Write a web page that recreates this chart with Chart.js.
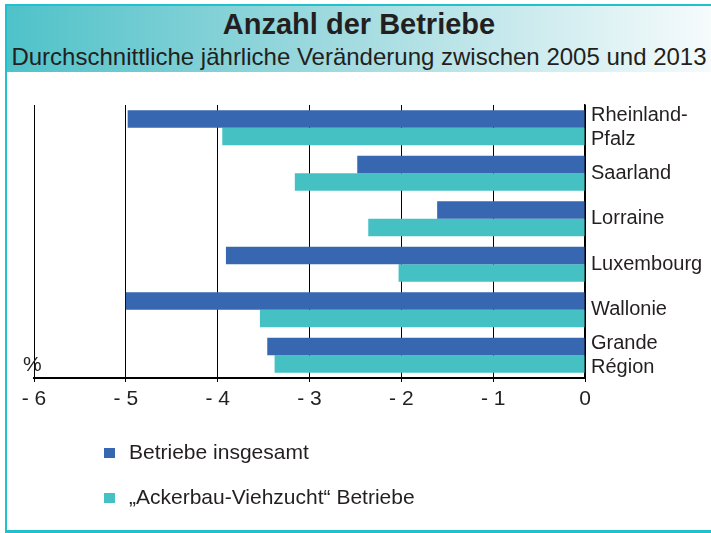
<!DOCTYPE html>
<html>
<head>
<meta charset="utf-8">
<script src="https://cdn.jsdelivr.net/npm/chart.js@4"></script>
<style>
  body { margin: 0; background: #fff; font-family: "Liberation Sans", Arial, sans-serif; }
  #wrap { position: relative; width: 711px; height: 533px; overflow: hidden; }
  #frame { position: absolute; left: 5px; top: 4px; width: 720px; height: 524px;
           border-left: 2px solid #1fc1cd; border-top: 2px solid #1fc1cd; border-bottom: 3px solid #1fc1cd; }
  #head { position: absolute; left: 7px; top: 6px; width: 704px; height: 66px;
          background: linear-gradient(to right, #4fc2c9 0%, #9dd9de 45%, #f6fbfc 100%); }
  #title { position: absolute; left: 7px; width: 704px; top: 8px; text-align: center;
           font-weight: bold; font-size: 29px; color: #231f20; }
  #sub { position: absolute; left: 7px; width: 704px; top: 43px; text-align: center;
         font-size: 24px; color: #231f20; }
  canvas { position: absolute; left: 0; top: 0; }
  #legend { position: absolute; left: 104px; top: 440px; }
  .item { position: relative; height: 45px; font-size: 21px; color: #231f20; }
  .item span.box { position: absolute; left: 0; top: 8px; width: 11px; height: 10px; }
  .item span.txt { position: absolute; left: 25px; top: 0; white-space: nowrap; }
</style>
</head>
<body>
<div id="wrap">
  <div id="frame"></div>
  <div id="head"></div>
  <div id="title">Anzahl der Betriebe</div>
  <div id="sub">Durchschnittliche jährliche Veränderung zwischen 2005 und 2013</div>
  <canvas id="chart" width="711" height="533"></canvas>
  <div id="legend"></div>
</div>
<script>
const regions = [['Rheinland-', 'Pfalz'], 'Saarland', 'Lorraine', 'Luxembourg', 'Wallonie', ['Grande', 'Région']];
const betriebeInsgesamt = [-4.98, -2.48, -1.61, -3.91, -5.00, -3.46];
const ackerbauViehzucht = [-3.95, -3.16, -2.36, -2.03, -3.54, -3.38];
const seriesNames = ['Betriebe insgesamt', '„Ackerbau-Viehzucht“ Betriebe'];
const xTicks = [-6, -5, -4, -3, -2, -1, 0];

const FONT = '"Liberation Sans", Arial, sans-serif';

// "%" unit label at the lower left of the plot
const percentLabel = {
  id: 'percentLabel',
  afterDraw(chart) {
    const ctx = chart.ctx;
    const area = chart.chartArea;
    ctx.save();
    ctx.font = '21px ' + FONT;
    ctx.fillStyle = '#231f20';
    ctx.textAlign = 'left';
    ctx.textBaseline = 'alphabetic';
    ctx.fillText('%', area.left - 11, area.bottom - 7);
    ctx.restore();
  }
};

const chart = new Chart(document.getElementById('chart'), {
  type: 'bar',
  data: {
    labels: regions,
    datasets: [
      { label: seriesNames[0], data: betriebeInsgesamt, backgroundColor: '#3667b0' },
      { label: seriesNames[1], data: ackerbauViehzucht, backgroundColor: '#45c1c4' }
    ]
  },
  options: {
    indexAxis: 'y',
    responsive: false,
    animation: false,
    barPercentage: 1,
    categoryPercentage: 0.77,
    layout: { padding: { left: 34, top: 105, right: 0, bottom: 115 } },
    scales: {
      x: {
        min: -6, max: 0,
        afterBuildTicks: s => { s.ticks = xTicks.map(v => ({ value: v })); },
        afterFit: s => { s.height = 40; },
        ticks: {
          font: { size: 21, family: FONT },
          color: '#231f20',
          padding: 5,
          callback: v => v < 0 ? '- ' + Math.abs(v) : String(v)
        },
        grid: { color: '#000', lineWidth: 1, tickLength: 4 },
        border: { color: '#000', width: 2 }
      },
      y: {
        position: 'right',
        afterFit: s => { s.width = 126; },
        ticks: {
          font: { size: 20, family: FONT },
          color: '#231f20',
          crossAlign: 'near',
          autoSkip: false,
          padding: 6
        },
        grid: { display: false, drawTicks: false, tickLength: 0 },
        border: { color: '#000', width: 1.5 }
      }
    },
    plugins: {
      legend: { display: false },
      tooltip: { enabled: false }
    }
  },
  plugins: [percentLabel]
});

// legend stacked vertically below the chart
const legend = document.getElementById('legend');
chart.data.datasets.forEach(ds => {
  const item = document.createElement('div');
  item.className = 'item';
  item.innerHTML = '<span class="box" style="background:' + ds.backgroundColor + '"></span><span class="txt">' + ds.label + '</span>';
  legend.appendChild(item);
});
</script>
</body>
</html>
